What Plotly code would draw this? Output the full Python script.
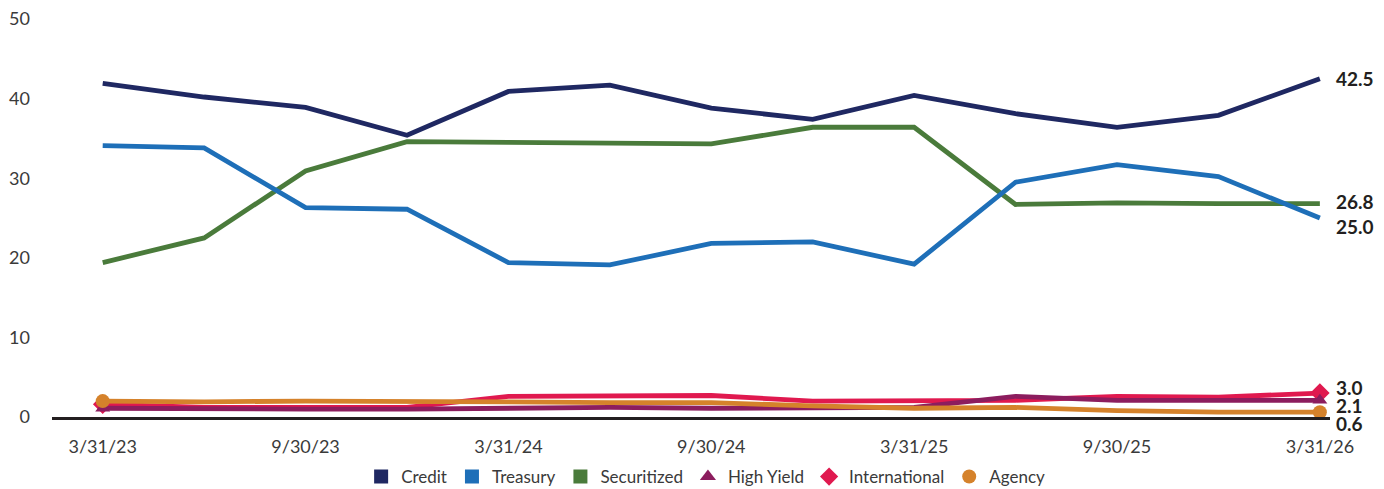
import plotly.graph_objects as go

dates = ["3/31/23", "6/30/23", "9/30/23", "12/31/23", "3/31/24", "6/30/24", "9/30/24",
         "12/31/24", "3/31/25", "6/30/25", "9/30/25", "12/31/25", "3/31/26"]
credit = [41.9, 40.2, 38.9, 35.4, 40.9, 41.7, 38.8, 37.4, 40.4, 38.1, 36.4, 37.9, 42.5]
treasury = [34.1, 33.8, 26.3, 26.1, 19.4, 19.1, 21.8, 22.0, 19.2, 29.5, 31.7, 30.2, 25.0]
securitized = [19.4, 22.5, 30.9, 34.6, 34.5, 34.4, 34.3, 36.4, 36.4, 26.7, 26.9, 26.8, 26.8]
high_yield = [1.1, 1.0, 1.0, 1.0, 1.1, 1.2, 1.1, 1.2, 1.2, 2.6, 2.1, 2.1, 2.1]
international = [1.6, 1.2, 1.2, 1.2, 2.6, 2.6, 2.7, 2.0, 2.0, 2.1, 2.6, 2.5, 3.0]
agency = [2.0, 1.9, 2.0, 2.0, 1.9, 1.8, 1.8, 1.4, 1.1, 1.2, 0.8, 0.6, 0.6]
tick_labels = ["3/31/23", "9/30/23", "3/31/24", "9/30/24", "3/31/25", "9/30/25", "3/31/26"]

series = {
    "Credit": (credit, "#1f2862", None, "square", 0),
    "Treasury": (treasury, "#1e6fb8", None, "square", 0),
    "Securitized": (securitized, "#4a7b3b", None, "square", 0),
    "High Yield": (high_yield, "#8c1d5e", "triangle-up", "triangle-up", 13),
    "International": (international, "#e0194f", "diamond", "diamond", 15),
    "Agency": (agency, "#d5822b", "circle", "circle", 14),
}
legend_order = ["Credit", "Treasury", "Securitized", "High Yield", "International", "Agency"]
draw_order = ["Securitized", "Treasury", "Credit", "International", "High Yield", "Agency"]
label_shift = {"Credit": 0, "Treasury": -8, "Securitized": 2, "High Yield": -5,
               "International": 6, "Agency": -11}

fig = go.Figure()
for name in draw_order:
    vals, color, sym, _, msize = series[name]
    n = len(vals)
    if sym:
        sizes = [msize] + [0] * (n - 2) + [msize]
        fig.add_trace(go.Scatter(
            x=dates, y=vals, mode="lines+markers", name=name, showlegend=False,
            line=dict(color=color, width=4.8),
            marker=dict(symbol=sym, size=sizes, color=color, opacity=1, line=dict(width=0)),
            cliponaxis=False))
    else:
        fig.add_trace(go.Scatter(
            x=dates, y=vals, mode="lines", name=name, showlegend=False,
            line=dict(color=color, width=4.8), cliponaxis=False))

for rank, name in enumerate(legend_order):
    vals, color, _, lsym, _ = series[name]
    fig.add_trace(go.Scatter(
        x=[None], y=[None], mode="markers", name=name, legendrank=rank + 1,
        marker=dict(symbol=lsym, size=14, color=color)))

for name in legend_order:
    vals = series[name][0]
    fig.add_annotation(
        x=dates[-1], y=vals[-1], text=f"<b>{vals[-1]:.1f}</b>", showarrow=False,
        xanchor="left", yanchor="middle", xshift=14, yshift=label_shift[name],
        font=dict(family="Lato", size=19, color="#231f20"))

fig.update_layout(
    width=1376, height=481,
    margin=dict(l=44, r=54, t=11, b=72, autoexpand=False),
    paper_bgcolor="white", plot_bgcolor="white",
    font=dict(family="Lato", size=17, color="#3a3a3a"),
    showlegend=True,
    legend=dict(orientation="h", xref="container", x=0.507, xanchor="center",
                yref="container", y=0.025, yanchor="middle",
                font=dict(size=17, color="#3a3a3a"), itemwidth=30,
                traceorder="normal", tracegroupgap=0),
    xaxis=dict(type="category", categoryorder="array", categoryarray=dates,
               range=[-0.5, 12.1], tickmode="array", tickvals=tick_labels,
               ticktext=tick_labels, showgrid=False, zeroline=False,
               showline=True, linecolor="#231f20", linewidth=2.5,
               ticks="", ticklabelstandoff=12, ticklabeloverflow="allow",
               tickfont=dict(size=18, color="#3a3a3a")),
    yaxis=dict(range=[0, 50], tickvals=[0, 10, 20, 30, 40, 50], showgrid=False,
               zeroline=False, showline=False, ticks="", ticklabelstandoff=21,
               ticklabeloverflow="allow",
               tickfont=dict(size=18, color="#3a3a3a")),
)

fig.write_html("out.html")
